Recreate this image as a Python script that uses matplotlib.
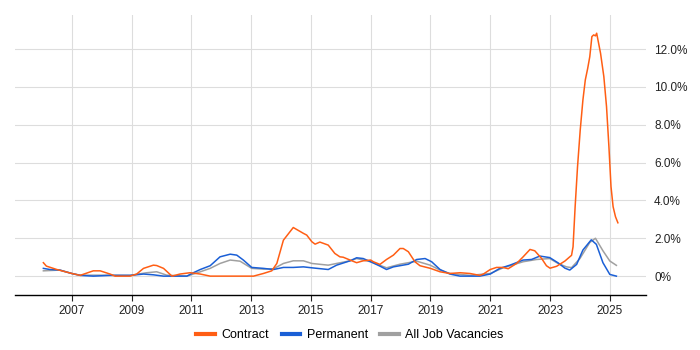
import numpy as np
import matplotlib.pyplot as plt
from matplotlib.lines import Line2D
from matplotlib.ticker import FuncFormatter

plt.rcParams['font.family'] = ['Liberation Sans', 'DejaVu Sans']

# values (percent of job ads)
contract_t = [2006.05, 2006.15, 2006.5, 2007.0, 2007.28, 2007.72, 2007.95, 2008.28, 2008.45,
              2008.95, 2009.17, 2009.4, 2009.73, 2009.84, 2010.07, 2010.35, 2010.62, 2010.96,
              2011.3, 2011.63, 2013.08, 2013.41, 2013.69, 2013.86, 2014.08, 2014.41, 2014.75,
              2014.86, 2015.03, 2015.14, 2015.3, 2015.58, 2015.8, 2015.97, 2016.08, 2016.31,
              2016.53, 2016.75, 2017.0, 2017.09, 2017.31, 2017.53, 2017.76, 2017.98, 2018.09,
              2018.26, 2018.48, 2018.65, 2019.0, 2019.32, 2019.65, 2019.99, 2020.32, 2020.65,
              2020.77, 2021.0, 2021.21, 2021.43, 2021.6, 2021.88, 2022.1, 2022.33, 2022.49,
              2022.72, 2022.88, 2023.0, 2023.22, 2023.5, 2023.66, 2023.72, 2023.77, 2023.84,
              2023.92, 2024.01, 2024.1, 2024.18, 2024.26, 2024.33, 2024.4, 2024.46, 2024.52,
              2024.56, 2024.69, 2024.8, 2024.89, 2024.97, 2025.04, 2025.11, 2025.19, 2025.27]
contract_v = [0.71, 0.53, 0.35, 0.14, 0.04, 0.28, 0.28, 0.11, 0.0,
              0.0, 0.11, 0.41, 0.58, 0.56, 0.41, 0.0, 0.11, 0.18,
              0.11, 0.0, 0.0, 0.14, 0.28, 0.67, 1.90, 2.57, 2.26,
              2.17, 1.82, 1.69, 1.80, 1.64, 1.20, 1.02, 1.00, 0.85,
              0.71, 0.81, 0.85, 0.76, 0.62, 0.88, 1.11, 1.46, 1.46,
              1.29, 0.76, 0.55, 0.41, 0.23, 0.14, 0.18, 0.14, 0.04,
              0.11, 0.35, 0.46, 0.46, 0.39, 0.67, 1.02, 1.41, 1.34,
              0.93, 0.55, 0.42, 0.52, 0.80, 1.02, 1.10, 1.55, 3.67,
              5.78, 7.72, 9.31, 10.37, 10.98, 11.60, 12.66, 12.75, 12.70,
              12.84, 11.78, 10.55, 8.96, 6.84, 4.73, 3.67, 3.14, 2.82]

perm_t = [2006.05, 2006.27, 2006.6, 2007.0, 2007.28, 2007.72, 2008.28, 2008.95, 2009.4,
          2009.73, 2010.07, 2010.85, 2011.07, 2011.3, 2011.63, 2011.96, 2012.3, 2012.52,
          2012.74, 2013.02, 2013.41, 2013.75, 2014.08, 2014.41, 2014.75, 2015.03, 2015.58,
          2015.86, 2016.31, 2016.53, 2016.75, 2017.0, 2017.31, 2017.53, 2017.76, 2018.26,
          2018.54, 2018.82, 2019.04, 2019.32, 2019.65, 2019.99, 2020.65, 2021.0, 2021.32,
          2021.66, 2022.1, 2022.38, 2022.66, 2022.99, 2023.27, 2023.5, 2023.66, 2023.89,
          2024.1, 2024.38, 2024.55, 2024.77, 2025.0, 2025.22]
perm_v = [0.41, 0.35, 0.32, 0.14, 0.04, 0.0, 0.04, 0.04, 0.11,
          0.07, 0.0, 0.0, 0.18, 0.35, 0.55, 1.02, 1.16, 1.11,
          0.85, 0.46, 0.41, 0.35, 0.46, 0.46, 0.49, 0.44, 0.35,
          0.58, 0.81, 0.97, 0.93, 0.76, 0.53, 0.35, 0.49, 0.63,
          0.88, 0.93, 0.76, 0.35, 0.11, 0.0, 0.0, 0.11, 0.41,
          0.58, 0.85, 0.88, 1.06, 0.98, 0.70, 0.42, 0.32, 0.62,
          1.38, 1.92, 1.68, 0.71, 0.09, 0.0]

all_t = [2006.05, 2006.6, 2007.0, 2007.28, 2007.95, 2008.95, 2009.51, 2009.84, 2010.18,
         2010.85, 2011.3, 2011.63, 2011.96, 2012.3, 2012.63, 2013.02, 2013.41, 2013.75,
         2014.08, 2014.41, 2014.75, 2015.03, 2015.58, 2015.86, 2016.31, 2016.53, 2017.0,
         2017.53, 2017.98, 2018.54, 2018.99, 2019.32, 2019.65, 2020.32, 2021.0, 2021.43,
         2022.1, 2022.55, 2022.99, 2023.27, 2023.55, 2023.72, 2024.0, 2024.33, 2024.52,
         2024.77, 2025.0, 2025.22]
all_v = [0.28, 0.32, 0.14, 0.05, 0.05, 0.04, 0.18, 0.23, 0.05,
         0.0, 0.23, 0.41, 0.67, 0.85, 0.79, 0.41, 0.37, 0.39,
         0.67, 0.81, 0.81, 0.67, 0.58, 0.67, 0.81, 0.93, 0.76,
         0.44, 0.63, 0.79, 0.58, 0.32, 0.14, 0.04, 0.14, 0.44,
         0.76, 0.88, 0.93, 0.67, 0.49, 0.45, 0.93, 1.78, 2.0,
         1.34, 0.80, 0.57]

years = list(range(2007, 2026, 2))
yticks = [0, 2, 4, 6, 8, 10, 12]

c_contract = '#ff5e14'
c_perm = '#1a5fd6'
c_all = '#a0a0a0'

fig = plt.figure(figsize=(7, 3.5), dpi=100)
ax = fig.add_axes([0.0214, 0.157, 0.9010, 0.800])

ax.plot(all_t, all_v, color=c_all, lw=1.1)
ax.plot(perm_t, perm_v, color=c_perm, lw=1.1)
ax.plot(contract_t, contract_v, color=c_contract, lw=1.1)

ax.set_xlim(2005.1, 2026.2)
ax.set_ylim(-1.0, 13.8)
ax.set_xticks(years)
ax.set_xticklabels([str(y) for y in years])
ax.set_yticks(yticks)
ax.yaxis.set_major_formatter(FuncFormatter(lambda v, p: '0%' if v == 0 else '%.1f%%' % v))
ax.yaxis.tick_right()
ax.tick_params(axis='y', length=0, pad=6, labelsize=8.5, colors='#222222')
ax.tick_params(axis='x', length=4, width=0.8, pad=3, labelsize=8.5, colors='#222222')

ax.grid(True, color='#dddddd', lw=0.8)
ax.set_axisbelow(True)
for s in ['top', 'left', 'right']:
    ax.spines[s].set_visible(False)
ax.spines['bottom'].set_color('#000000')
ax.spines['bottom'].set_linewidth(1.0)

handles = [Line2D([], [], color=c_contract, lw=3),
           Line2D([], [], color=c_perm, lw=3),
           Line2D([], [], color=c_all, lw=3)]
fig.legend(handles, ['Contract', 'Permanent', 'All Job Vacancies'],
           loc='center', bbox_to_anchor=(0.5, 0.043), ncol=3, frameon=False,
           fontsize=9, handlelength=1.5, handletextpad=0.5, columnspacing=1.0)

fig.savefig('out.png', dpi=100)
